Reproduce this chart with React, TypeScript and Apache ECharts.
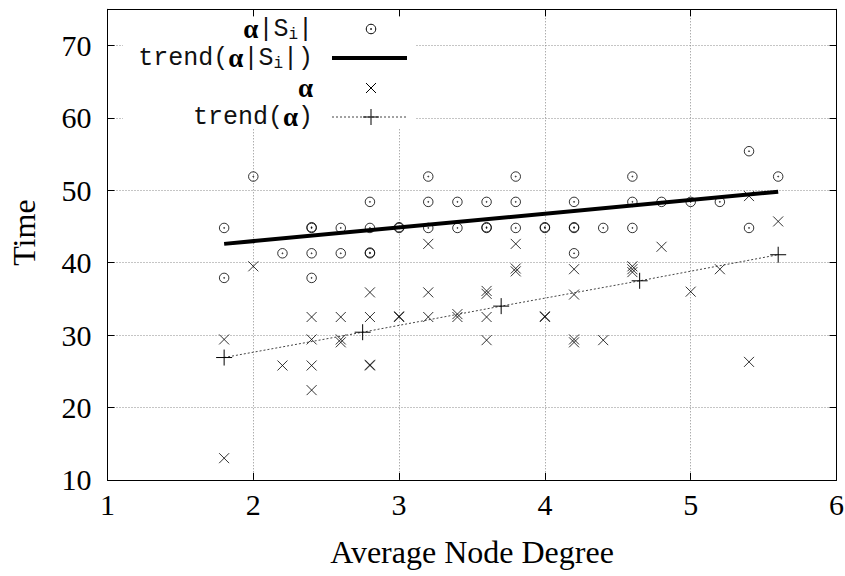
import React, { useEffect, useRef } from "react";
import * as echarts from "echarts";

// ---- data ----
const xTickValues = [1, 2, 3, 4, 5, 6];
const yTickValues = [10, 20, 30, 40, 50, 60, 70];

// α|S_i| (circle with dot)
const alphaSiPoints: [number, number][] = [
  [1.8, 44.8], [1.8, 37.9],
  [2.0, 51.9],
  [2.2, 41.3],
  [2.4, 44.8], [2.4, 44.9], [2.4, 41.3], [2.4, 37.9],
  [2.6, 44.8], [2.6, 41.3],
  [2.8, 48.4], [2.8, 44.8], [2.8, 41.3], [2.8, 41.4],
  [3.0, 44.8], [3.0, 44.9],
  [3.2, 51.9], [3.2, 48.4], [3.2, 44.8],
  [3.4, 48.4], [3.4, 44.8],
  [3.6, 48.4], [3.6, 44.8], [3.6, 44.9],
  [3.8, 51.9], [3.8, 48.4], [3.8, 44.8],
  [4.0, 44.8], [4.0, 44.9],
  [4.2, 48.4], [4.2, 44.8], [4.2, 44.9], [4.2, 41.3],
  [4.4, 44.8],
  [4.6, 51.9], [4.6, 48.4], [4.6, 44.8],
  [4.8, 48.4],
  [5.0, 48.4],
  [5.2, 48.4],
  [5.4, 55.4], [5.4, 44.8],
  [5.6, 51.9],
];

// α (cross)
const alphaPoints: [number, number][] = [
  [1.8, 29.4], [1.8, 13.0],
  [2.0, 39.5],
  [2.2, 25.8],
  [2.4, 32.5], [2.4, 29.4], [2.4, 25.8], [2.4, 22.4],
  [2.6, 32.5], [2.6, 29.0], [2.6, 29.4],
  [2.8, 35.9], [2.8, 32.5], [2.8, 25.8], [2.8, 25.9],
  [3.0, 32.5], [3.0, 32.6],
  [3.2, 42.6], [3.2, 35.9], [3.2, 32.5],
  [3.4, 32.5], [3.4, 32.9],
  [3.6, 35.7], [3.6, 36.1], [3.6, 32.5], [3.6, 29.3],
  [3.8, 42.6], [3.8, 38.8], [3.8, 39.2],
  [4.0, 32.5], [4.0, 32.6],
  [4.2, 39.1], [4.2, 35.6], [4.2, 29.0], [4.2, 29.4],
  [4.4, 29.3],
  [4.6, 38.7], [4.6, 39.1], [4.6, 39.5],
  [4.8, 42.2],
  [5.0, 36.0],
  [5.2, 39.1],
  [5.4, 49.2], [5.4, 26.3],
  [5.6, 45.7],
];

// trend(α|S_i|)
const trendAlphaSi: [number, number][] = [[1.8, 42.6], [5.6, 49.8]];
// trend(α)
const trendAlpha: [number, number][] = [
  [1.8, 26.9], [2.75, 30.4], [3.7, 34.0], [4.65, 37.5], [5.6, 41.1],
];

const seriesNames = ["α|S_i|", "trend(α|S_i|)", "α", "trend(α)"];

const CIRCLE_DOT =
  "path://M10,5A5,5,0,1,1,0,5A5,5,0,1,1,10,5ZM5.5,5A0.5,0.5,0,1,1,4.5,5A0.5,0.5,0,1,1,5.5,5Z";
const CROSS = "path://M0,0L10,10M10,0L0,10";
const PLUS = "path://M5,0L5,10M0,5L10,5";

const SERIF = "'Liberation Serif', 'Times New Roman', serif";
const MONO = "'Liberation Mono', 'Courier New', monospace";

const legendRich = {
  t: { fontFamily: MONO, fontSize: 25, lineHeight: 28, fill: "#111", color: "#111" },
  a: { fontFamily: SERIF, fontSize: 27, fontWeight: "bold", lineHeight: 28, fill: "#000", color: "#000" },
  s: { fontFamily: MONO, fontSize: 16, lineHeight: 8, verticalAlign: "bottom", fill: "#111", color: "#111" },
};

export default function App() {
  const ref = useRef<HTMLDivElement>(null);

  useEffect(() => {
    if (!ref.current) return;
    const chart = echarts.init(ref.current, undefined, { renderer: "svg" });

    const axisCommon = {
      type: "value" as const,
      axisLine: { show: true, onZero: false, lineStyle: { color: "#000", width: 1 } },
      axisTick: { show: true, inside: true, length: 7, lineStyle: { color: "#000", width: 1 } },
    };

    const LX = 313;
    const rows = [29, 58, 88, 117];
    const SX = 371;

    const option: any = {
      animation: false,
      backgroundColor: "#fff",
      grid: {
        left: 107.5,
        right: 8.5,
        top: 9.3,
        bottom: 96.1,
        containLabel: false,
        outerBoundsMode: "none",
      },
      xAxis: [
        {
          ...axisCommon,
          position: "bottom",
          min: xTickValues[0],
          max: xTickValues[xTickValues.length - 1],
          interval: 1,
          axisLabel: { color: "#000", fontFamily: SERIF, fontSize: 30, margin: 10 },
          splitLine: { show: true, lineStyle: { color: "#8a8a8a", type: [1, 2], width: 1 } },
          name: "Average Node Degree",
          nameLocation: "middle",
          nameGap: 56,
          nameTextStyle: { color: "#000", fontFamily: SERIF, fontSize: 32 },
        },
        {
          ...axisCommon,
          position: "top",
          min: xTickValues[0],
          max: xTickValues[xTickValues.length - 1],
          interval: 1,
          axisLabel: { show: false },
          splitLine: { show: false },
        },
      ],
      yAxis: [
        {
          ...axisCommon,
          position: "left",
          min: yTickValues[0],
          max: 75,
          interval: 10,
          axisLabel: { color: "#000", fontFamily: SERIF, fontSize: 30, margin: 16, showMaxLabel: false },
          splitLine: { show: true, lineStyle: { color: "#8a8a8a", type: [1, 2], width: 1 } },
          name: "Time",
          nameLocation: "middle",
          nameGap: 68,
          nameTextStyle: { color: "#000", fontFamily: SERIF, fontSize: 32, padding: [0, 0, 0, 24] },
        },
        {
          ...axisCommon,
          position: "right",
          min: yTickValues[0],
          max: 75,
          interval: 10,
          axisLabel: { show: false },
          splitLine: { show: false },
        },
      ],
      series: [
        {
          name: seriesNames[0],
          type: "scatter",
          data: alphaSiPoints,
          symbol: CIRCLE_DOT,
          symbolSize: 9.5,
          itemStyle: { color: "none", borderColor: "#000", borderWidth: 1 },
          z: 3,
        },
        {
          name: seriesNames[1],
          type: "line",
          data: trendAlphaSi,
          showSymbol: false,
          symbol: "none",
          lineStyle: { color: "#000", width: 4 },
          z: 4,
        },
        {
          name: seriesNames[2],
          type: "scatter",
          data: alphaPoints,
          symbol: CROSS,
          symbolSize: 10,
          itemStyle: { color: "none", borderColor: "#000", borderWidth: 1 },
          z: 5,
        },
        {
          name: seriesNames[3],
          type: "line",
          data: trendAlpha,
          symbol: PLUS,
          symbolSize: 16,
          showSymbol: true,
          itemStyle: { color: "none", borderColor: "#000", borderWidth: 1 },
          lineStyle: { color: "#444", width: 1, type: [2, 2] },
          z: 6,
        },
      ],
      graphic: [
        {
          type: "rect",
          shape: { x: 123, y: 17, width: 292, height: 111 },
          style: { fill: "#fff" },
          z: 1,
          silent: true,
        },
        {
          type: "text",
          x: LX,
          y: rows[0],
          z: 10,
          style: {
            text: "{a|α}{t||S}{s|i}{t||}",
            rich: legendRich,
            align: "right",
            verticalAlign: "middle",
          },
        },
        {
          type: "text",
          x: LX,
          y: rows[1],
          z: 10,
          style: {
            text: "{t|trend(}{a|α}{t||S}{s|i}{t||)}",
            rich: legendRich,
            align: "right",
            verticalAlign: "middle",
          },
        },
        {
          type: "text",
          x: LX,
          y: rows[2],
          z: 10,
          style: {
            text: "{a|α}",
            rich: legendRich,
            align: "right",
            verticalAlign: "middle",
          },
        },
        {
          type: "text",
          x: LX,
          y: rows[3],
          z: 10,
          style: {
            text: "{t|trend(}{a|α}{t|)}",
            rich: legendRich,
            align: "right",
            verticalAlign: "middle",
          },
        },
        // legend samples
        { type: "circle", z: 10, shape: { cx: SX, cy: rows[0], r: 4.75 }, style: { fill: "none", stroke: "#000", lineWidth: 1 } },
        { type: "circle", z: 10, shape: { cx: SX, cy: rows[0], r: 0.8 }, style: { fill: "#000" } },
        { type: "line", z: 10, shape: { x1: 332, y1: rows[1], x2: 407, y2: rows[1] }, style: { stroke: "#000", lineWidth: 4 } },
        { type: "line", z: 10, shape: { x1: SX - 5, y1: rows[2] - 5, x2: SX + 5, y2: rows[2] + 5 }, style: { stroke: "#000", lineWidth: 1 } },
        { type: "line", z: 10, shape: { x1: SX + 5, y1: rows[2] - 5, x2: SX - 5, y2: rows[2] + 5 }, style: { stroke: "#000", lineWidth: 1 } },
        { type: "line", z: 10, shape: { x1: 332, y1: rows[3], x2: 407, y2: rows[3] }, style: { stroke: "#444", lineWidth: 1, lineDash: [2, 2] } },
        { type: "line", z: 10, shape: { x1: SX, y1: rows[3] - 8, x2: SX, y2: rows[3] + 8 }, style: { stroke: "#000", lineWidth: 1 } },
        { type: "line", z: 10, shape: { x1: SX - 8, y1: rows[3], x2: SX + 8, y2: rows[3] }, style: { stroke: "#000", lineWidth: 1 } },
      ],
    };

    chart.setOption(option);
    return () => chart.dispose();
  }, []);

  return (
    <div
      ref={ref}
      style={{ position: "absolute", left: 0, top: 0, width: 845, height: 576, background: "#fff" }}
    />
  );
}
